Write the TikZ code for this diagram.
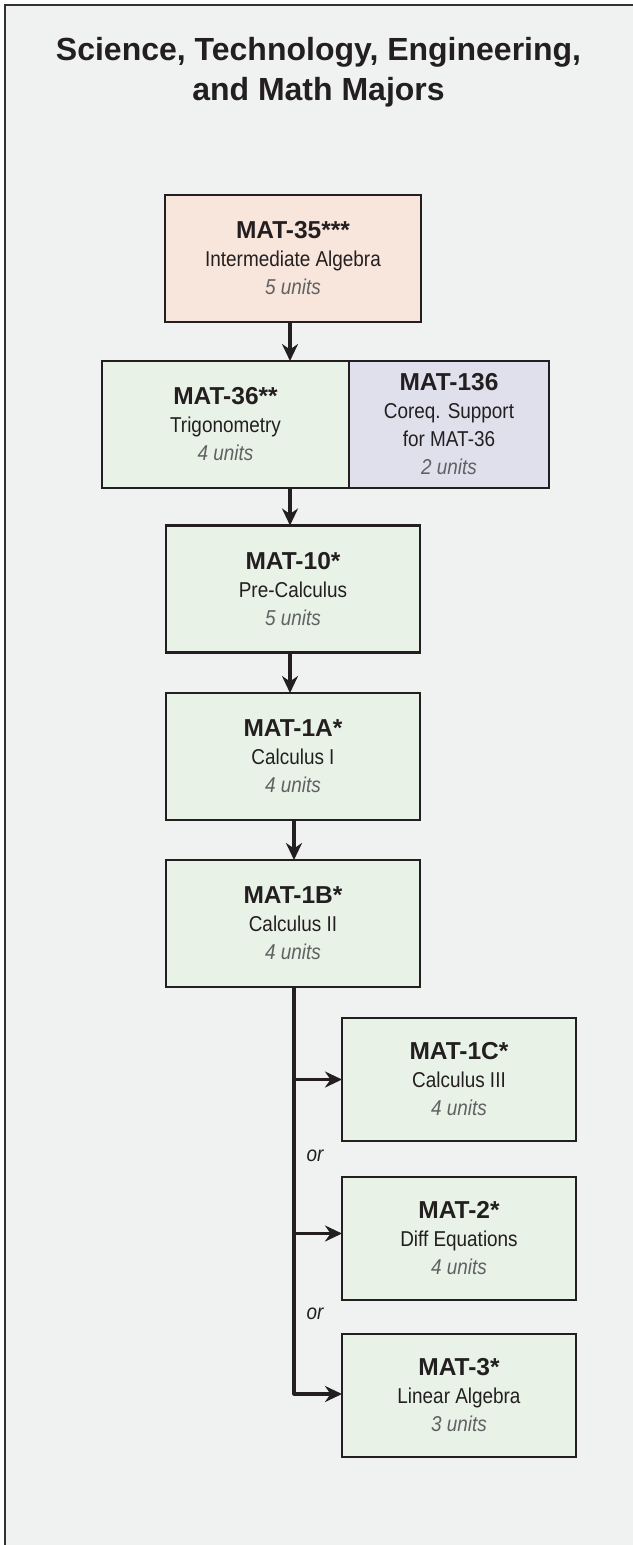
\documentclass[tikz,border=0pt]{standalone}
\usepackage{fontspec}
\setmainfont{Liberation Sans}
\newfontfamily\condfont[FakeStretch=0.88]{Liberation Sans}
\usetikzlibrary{arrows.meta}
\definecolor{bg}{HTML}{F0F2F1}
\definecolor{ink}{HTML}{231F20}
\definecolor{framecol}{HTML}{333333}
\definecolor{pinkfill}{HTML}{F8E5DC}
\definecolor{greenfill}{HTML}{E9F2E6}
\definecolor{lavfill}{HTML}{E0E0EC}
\definecolor{unitgray}{HTML}{606163}
\newcommand\crsname[1]{{\rmfamily\fontsize{24.5}{28}\selectfont\bfseries #1}}
\newcommand\crsunits[1]{{\itshape\color{unitgray}#1}}
\begin{document}
\begin{tikzpicture}[x=1pt,y=-1pt,
  box/.style={draw=ink, line width=2.3pt, inner sep=0pt, outer sep=0pt, align=center,
    font=\condfont\fontsize{21.5}{28}\selectfont, text=ink},
  mainbox/.style={box, fill=greenfill, minimum width=254pt, minimum height=127pt},
  sidebox/.style={box, fill=greenfill, minimum width=234pt, minimum height=123pt},
  arr/.style={draw=ink, line width=3.2pt, line join=round,
    -{Stealth[length=17pt,width=16pt,inset=5.5pt]}},
  lbl/.style={font=\condfont\fontsize{21.5}{24}\selectfont\itshape, text=ink, inner sep=0pt}]
\useasboundingbox (0,0) rectangle (632,1545);
\fill[white] (0,0) rectangle (632,1545);
\draw[fill=bg, draw=framecol, line width=2pt] (5,5) rectangle (660,1570);

\node[align=center, inner sep=0pt, anchor=north, text=ink,
  font=\fontsize{32}{40}\selectfont\bfseries] (title) at (318.5,37)
  {Science, Technology, Engineering,\\and Math Majors};

\node[box, fill=pinkfill, minimum width=256pt, minimum height=127pt] (m35) at (293,258.5)
  {\crsname{MAT-35***}\\Intermediate Algebra\\\crsunits{5 units}};
\node[box, fill=greenfill, minimum width=247pt, minimum height=127pt] (m36) at (225.5,424.5)
  {\crsname{MAT-36**}\\Trigonometry\\\crsunits{4 units}};
\node[box, fill=lavfill, minimum width=200pt, minimum height=127pt] (m136) at (449,424.5)
  {\crsname{MAT-136}\\Coreq. Support\\for MAT-36\\\crsunits{2 units}};
\node[mainbox] (m10) at (293,589)
  {\crsname{MAT-10*}\\Pre-Calculus\\\crsunits{5 units}};
\node[mainbox] (m1a) at (293,756.5)
  {\crsname{MAT-1A*}\\Calculus I\\\crsunits{4 units}};
\node[mainbox] (m1b) at (293,923.5)
  {\crsname{MAT-1B*}\\Calculus II\\\crsunits{4 units}};
\node[sidebox] (m1c) at (459,1079.5)
  {\crsname{MAT-1C*}\\Calculus III\\\crsunits{4 units}};
\node[sidebox] (m2) at (459,1238.5)
  {\crsname{MAT-2*}\\Diff Equations\\\crsunits{4 units}};
\node[sidebox] (m3) at (459,1395.5)
  {\crsname{MAT-3*}\\Linear Algebra\\\crsunits{3 units}};

\node[lbl] (or1) at (315,1156) {or};
\node[lbl] (or2) at (315,1314) {or};

\draw[arr] ([xshift=-3pt]m35.south) -- ([xshift=-3pt]m35.south |- m36.north);
\draw[arr] ([xshift=-3pt]m10.north |- m36.south) -- ([xshift=-3pt]m10.north);
\draw[arr] ([xshift=-3pt]m10.south) -- ([xshift=-3pt]m10.south |- m1a.north);
\draw[arr] ([xshift=1pt]m1a.south) -- ([xshift=1pt]m1a.south |- m1b.north);

\coordinate (tr) at ([xshift=1pt]m1b.south);
\coordinate (m2in) at ([yshift=5pt]m2.west);
\coordinate (m3in) at ([yshift=1.5pt]m3.west);
\draw[arr] (tr) -- (tr |- m3in) -- (m3in);
\draw[arr] (tr |- m1c.west) -- (m1c.west);
\draw[arr] (tr |- m2in) -- (m2in);
\end{tikzpicture}
\end{document}
